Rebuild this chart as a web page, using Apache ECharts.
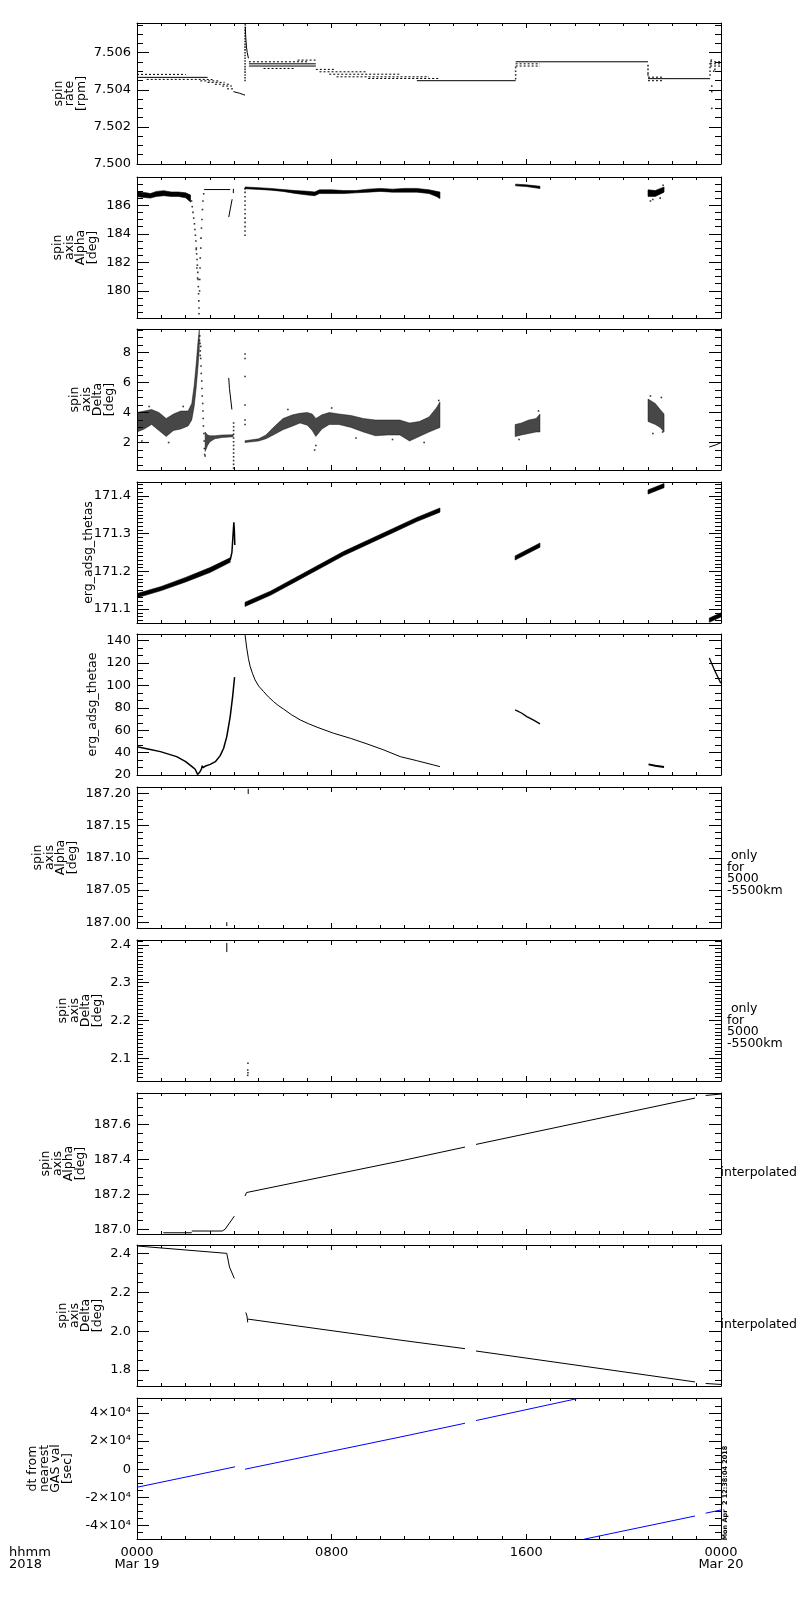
<!DOCTYPE html>
<html><head><meta charset="utf-8">
<script src="https://cdn.jsdelivr.net/npm/echarts@6/dist/echarts.min.js"></script>
<style>html,body{margin:0;padding:0;background:#fff}#c{width:800px;height:1600px}</style>
</head><body><div id="c"></div>
<script>
// ---------------- tick labels / texts ----------------
const xTickHours = [0, 8, 16, 24];
const xTickText = ['0000\nMar 19', '0800', '1600', '0000\nMar 20'];
const xCornerText = 'hhmm\n2018';
const stampText = 'Mon Apr  2 12:38:04 2018';
const yTitles = ['spin\nrate\n[rpm]', 'spin\naxis\nAlpha\n[deg]', 'spin\naxis\nDelta\n[deg]', 'erg_adsg_thetas', 'erg_adsg_thetae',
  'spin\naxis\nAlpha\n[deg]', 'spin\naxis\nDelta\n[deg]', 'spin\naxis\nAlpha\n[deg]', 'spin\naxis\nDelta\n[deg]', 'dt from\nnearest\nGAS val\n[sec]'];
const sideNotes = ['', '', '', '', '', ' only\nfor\n5000\n-5500km', ' only\nfor\n5000\n-5500km', 'interpolated', 'interpolated', ''];
const yMin = [7.500, 178.1, 0.17, 171.063, 20, 186.991, 2.040, 186.973, 1.718, -49500];
const yMax = [7.5076, 187.98, 9.56, 171.437, 146, 187.2098, 2.413, 187.779, 2.443, 50500];
const yMajor = [0.002, 2, 2, 0.1, 20, 0.05, 0.1, 0.2, 0.2, 20000];
const yMinorSplit = [4, 4, 4, 10, 3, 5, 10, 4, 4, 4];
const yDecimals = [3, 0, 0, 1, 0, 2, 1, 1, 1, 0];

// ---------------- panel 1: spin rate ----------------
const rateSolid = [[0,2.9,7.50467],[4.6,7.35,7.50540],[4.6,7.35,7.50528],[11.5,15.56,7.50449],[15.56,21.0,7.50551],[21.0,23.55,7.50460]];
const rateDotted = [[0,2.0,7.50483],[0.4,3.1,7.50456],[2.6,3.4,7.50448],[2.9,3.6,7.50440],[3.2,3.8,7.50430],[3.5,3.9,7.50420],[3.7,3.96,7.50405],
  [4.6,7.0,7.50551],[5.2,6.5,7.50515],[6.6,7.35,7.50560],[7.35,8.1,7.50510],[7.5,9.45,7.50497],[7.9,10.82,7.50484],[8.2,12.0,7.50470],[9.5,12.45,7.50461],
  [15.56,16.56,7.50540],[15.56,16.56,7.50528],[21.0,21.66,7.50468],[21.0,21.66,7.50449],[23.55,24,7.50551],[23.55,24,7.50540],[23.55,24,7.50528]];
const rateTail = [[3.96,7.50390],[4.2,7.50382],[4.44,7.50371]];
const rateDecay = [[4.45,7.5074],[4.47,7.5068],[4.5,7.5063],[4.53,7.5060],[4.58,7.5057]];
const rateDots = [[4.44,7.50450],[4.44,7.50465],[4.44,7.50480],[4.44,7.50495],[4.44,7.50510],[4.44,7.50525],[4.44,7.50540],[4.44,7.50555],[4.44,7.50570],
  [4.44,7.50585],[4.44,7.50600],[4.44,7.50615],[4.44,7.50630],[4.44,7.50645],[4.44,7.50660],[4.44,7.50675],[4.44,7.50690],[4.44,7.50705],[4.44,7.50720],[4.45,7.50735],[4.45,7.50750],
  [15.56,7.5046],[15.56,7.5048],[15.56,7.5050],[15.56,7.5052],[21.0,7.5053],[21.0,7.5051],[21.0,7.5049],[21.0,7.5048],
  [23.55,7.5048],[23.55,7.5050],[23.55,7.5052],[23.55,7.5054],[23.6,7.5056],[23.62,7.5042],[23.62,7.5039],[23.62,7.5030],[23.7,7.5050],[23.75,7.5051]];

// ---------------- panel 2: spin axis alpha ----------------
const alphaBand1 = [[0,186.6,186.95],[0.3,186.55,186.9],[0.55,186.5,186.82],[0.8,186.62,186.97],[1.1,186.67,187.02],[1.4,186.62,186.93],[1.7,186.62,186.93],[2.0,186.52,186.87],[2.2,186.22,186.72]];
const alphaBand2 = [[4.44,187.16,187.28],[5.0,187.11,187.23],[5.5,187.06,187.18],[6.0,186.97,187.1],[6.5,186.83,187.03],[7.0,186.72,186.98],[7.3,186.67,186.93],[7.5,186.82,187.08],
  [8.0,186.82,187.08],[8.5,186.82,187.03],[9.0,186.87,187.03],[9.5,186.92,187.13],[10.0,186.97,187.18],[10.5,186.92,187.13],[11.0,186.92,187.18],[11.5,186.92,187.18],[12.0,186.82,187.08],[12.3,186.62,186.98],[12.45,186.47,186.93]];
const alphaBand3 = [[15.56,187.36,187.48],[16.0,187.31,187.43],[16.56,187.17,187.33]];
const alphaBand4 = [[21.0,186.62,187.08],[21.3,186.62,187.03],[21.66,186.92,187.28]];
const alphaFlat = [[2.76,187.1],[3.83,187.1]];
const alphaTick = [[3.96,186.85],[3.96,187.15]];
const alphaRise = [[3.77,185.17],[3.84,185.8],[3.91,186.42]];
const alphaDots = [[2.24,186.3],[2.27,185.9],[2.3,185.5],[2.33,185.1],[2.36,184.7],[2.38,184.3],[2.4,183.9],[2.42,183.5],[2.44,183.0],[2.45,182.6],[2.47,182.2],
  [2.48,181.8],[2.5,181.3],[2.51,180.8],[2.52,180.3],[2.53,179.8],[2.54,179.3],[2.55,178.8],[2.55,178.4],[2.43,182.9],[2.46,181.6],[2.49,180.9],
  [2.57,180.0],[2.58,180.8],[2.59,181.6],[2.6,182.3],[2.62,183.0],[2.63,183.7],[2.65,184.4],[2.67,185.0],[2.69,185.7],[2.71,186.3],[2.74,186.8],
  [4.44,187.15],[4.44,186.9],[4.44,186.6],[4.44,186.3],[4.44,186.0],[4.44,185.7],[4.44,185.4],[4.44,185.1],[4.44,184.8],[4.44,184.5],[4.44,184.2],[4.44,183.9],
  [21.1,186.3],[21.2,186.4],[21.5,186.5],[21.62,187.4]];

// ---------------- panel 3: spin axis delta ----------------
const deltaBand1 = [[0,2.7,4.0],[0.3,2.9,4.1],[0.6,3.2,4.2],[0.9,2.8,4.0],[1.2,2.4,3.6],[1.5,2.8,3.9],[1.8,2.9,4.1],[2.1,3.1,4.1],[2.25,3.5,4.6],[2.35,4.4,5.8],[2.43,5.6,7.2],[2.5,6.9,8.6],[2.56,8.2,9.5]];
const deltaBand2 = [[2.8,1.4,2.7],[2.9,1.8,2.5],[3.0,2.05,2.45],[3.2,2.25,2.45],[3.5,2.33,2.5],[3.95,2.38,2.52]];
const deltaBand3 = [[4.44,2.0,2.12],[5.0,2.1,2.25],[5.3,2.25,2.5],[5.6,2.5,3.0],[6.0,2.85,3.6],[6.4,3.1,3.85],[6.7,3.3,3.95],[7.0,3.15,4.0],[7.2,2.8,3.9],[7.35,2.4,3.6],
  [7.6,2.9,3.85],[7.9,3.2,4.0],[8.3,3.2,3.9],[8.8,3.0,3.8],[9.3,2.7,3.6],[9.8,2.45,3.5],[10.3,2.5,3.5],[10.8,2.5,3.5],[11.2,2.1,3.3],[11.6,2.4,3.4],[12.0,2.7,3.7],[12.3,2.9,4.3],[12.45,3.0,4.7]];
const deltaBand4 = [[15.54,2.4,3.2],[15.8,2.5,3.3],[16.1,2.6,3.5],[16.4,2.7,3.6],[16.56,2.7,3.9]];
const deltaBand5 = [[21.0,3.4,4.9],[21.3,3.2,4.6],[21.5,3.0,4.2],[21.66,2.7,3.9]];
const deltaShort = [[3.77,6.3],[3.8,5.6],[3.85,4.9],[3.9,4.2]];
const deltaEnd = [[23.52,1.7],[23.8,1.85],[24,2.0]];
const deltaDots = [[2.58,9.1],[2.59,8.6],[2.6,8.1],[2.62,7.6],[2.63,7.1],[2.64,6.6],[2.66,6.1],[2.67,5.6],[2.68,5.1],[2.7,4.6],[2.71,4.1],[2.72,3.6],
  [2.73,3.1],[2.75,2.6],[2.76,2.1],[2.77,1.6],[2.78,1.2],[2.8,1.1],[2.6,7.8],[2.62,8.4],[2.57,8.8],
  [3.97,3.3],[3.97,3.05],[3.97,2.8],[3.97,2.55],[3.97,2.3],[3.97,2.05],[3.97,1.8],[3.97,1.55],[3.97,1.3],[3.97,1.05],[3.97,0.8],[3.97,0.55],[3.97,0.3],
  [4.44,7.9],[4.44,7.6],[4.44,6.4],[4.44,4.5],[4.44,3.5],[4.44,3.2],
  [0.2,2.1],[0.5,4.4],[1.3,2.0],[1.9,4.4],[6.2,4.2],[7.3,1.5],[7.35,1.8],[8.0,4.3],[9.0,2.3],[10.5,2.2],[11.8,2.0],[12.4,4.8],
  [15.7,2.2],[16.5,4.1],[21.1,5.1],[21.2,2.6],[21.6,2.7],[21.55,5.0]];

// ---------------- panel 4: erg_adsg_thetas ----------------
const thetasBand1 = [[0,171.130,171.141],[1,171.149,171.160],[2,171.172,171.184],[3,171.197,171.210],[3.83,171.224,171.236]];
const thetasBand2 = [[4.44,171.107,171.118],[5.5,171.137,171.148],[6.5,171.172,171.183],[7.5,171.207,171.218],[8.5,171.242,171.253],[9.5,171.272,171.283],[10.5,171.302,171.313],[11.5,171.332,171.343],[12.45,171.357,171.368]];
const thetasBand3 = [[15.54,171.230,171.241],[16.56,171.264,171.275]];
const thetasBand4 = [[21.0,171.405,171.416],[21.66,171.422,171.433]];
const thetasBand5 = [[23.52,171.065,171.076],[24,171.079,171.090]];
const thetasSpike = [[3.83,171.23],[3.9,171.25],[3.95,171.30],[3.98,171.33],[4.0,171.31],[4.02,171.27]];

// ---------------- panel 5: erg_adsg_thetae ----------------
const thetae1 = [[0,45.3],[0.5,43],[0.96,40.9],[1.63,36.4],[2.0,32],[2.26,27.5],[2.39,25.1],[2.49,20.5],[2.52,19],[2.55,20],[2.59,23],[2.65,25.5],[2.68,28.3],[2.72,26.5],
  [2.82,28.1],[3.01,29.5],[3.22,31.9],[3.42,37.3],[3.56,43.9],[3.69,54.3],[3.83,72.2],[3.93,90.1],[4.01,107.5]];
const thetae2 = [[4.44,145.3],[4.51,133.4],[4.58,124],[4.65,117],[4.75,110.5],[4.85,105],[5.0,99.5],[5.2,94.6],[5.4,89.8],[5.61,85.6],[5.8,82.2],[6.03,78.8],[6.35,73.8],[6.71,69.2],[7.05,65.8],[7.4,62.7],[8.08,57.3],[8.77,52.8],[9.45,47.8],[10.14,42.4],[10.82,36.4],[11.5,32.8],[12.18,29],[12.45,27.5]];
const thetae3 = [[15.54,78.2],[15.8,75.4],[16.02,72.2],[16.3,69],[16.56,65.7]];
const thetae4 = [[21.02,29.5],[21.3,28.3],[21.66,27.2]];
const thetae5 = [[23.52,124.5],[23.75,113],[23.99,102.1]];

// ---------------- panel 6/7: 5000-5500 km only ----------------
const alphaKmA = [[4.57,187.199],[4.57,187.207]];
const alphaKmB = [[3.69,186.994],[3.69,187.0]];
const deltaKmA = [[3.69,2.381],[3.69,2.405]];
const deltaKmDots = [[4.56,2.087],[4.55,2.069],[4.56,2.062],[4.55,2.055]];

// ---------------- panel 8: interpolated alpha ----------------
const alphaInt1 = [[1.08,186.98],[2.25,186.98]];
const alphaInt2 = [[2.25,186.99],[3.5,186.99],[3.62,187.0],[4.0,187.075]];
const alphaInt3 = [[4.44,187.19],[4.5,187.21],[4.55,187.2],[10.81,187.39],[13.48,187.47]];
const alphaInt4 = [[13.93,187.485],[22.93,187.75]];
const alphaInt5 = [[23.37,187.765],[24,187.773]];

// ---------------- panel 9: interpolated delta ----------------
const deltaInt1 = [[0,2.438],[3.69,2.40],[3.8,2.33],[4.0,2.271]];
const deltaInt2 = [[4.47,2.096],[4.52,2.078],[4.55,2.045]];
const deltaInt3 = [[4.56,2.062],[10.81,1.954],[13.48,1.910]];
const deltaInt4 = [[13.93,1.898],[22.93,1.739]];
const deltaInt5 = [[23.37,1.731],[24,1.726]];

// ---------------- panel 10: dt from nearest GAS value ----------------
const dt1 = [[0,-12800],[4.03,1700]];
const dt2 = [[4.44,0],[10.81,22800],[13.48,32600]];
const dt3 = [[13.93,34500],[18.07,50000]];
const dt4 = [[18.38,-49600],[22.93,-33200]];
const dt5 = [[23.37,-31200],[24,-28900]];

// ================= layout & build =================
const FONT = 'DejaVu Sans';
const panelTops = [23, 177, 329, 482, 634, 787, 940, 1093, 1245, 1398];
const nameGaps = [50, 39, 22, 43, 39, 59, 34, 51, 34, 64];
const PH = 141, GL = 137, GW = 584;

function yFmt(p) {
  return function (v) {
    const m = yMajor[p];
    const k = Math.round(v / m);
    if (Math.abs(v - k * m) > m * 1e-4) return '';
    const val = k * m;
    if (p === 9) {
      if (k === 0) return '0';
      return (val < 0 ? '-' : '') + Math.abs(val / 10000) + '\u00d710\u2074';
    }
    return val.toFixed(yDecimals[p]);
  };
}
function xFmt(v) {
  const r = Math.round(v);
  const i = xTickHours.indexOf(r);
  return (Math.abs(v - r) < 1e-6 && i >= 0) ? xTickText[i] : '';
}

const grid = [], xAxis = [], yAxis = [], series = [];
const black = {color: '#000', width: 1};
for (let p = 0; p < 10; p++) {
  grid.push({left: GL, top: panelTops[p], width: GW, height: PH, containLabel: false, outerBoundsMode: 'none', show: false});
  const xb = {
    type: 'value', gridIndex: p, min: 0, max: 24, interval: 8,
    axisLine: {show: true, onZero: false, lineStyle: black},
    axisTick: {show: true, inside: true, length: 5, lineStyle: black},
    minorTick: {show: true, splitNumber: 8, length: 3, lineStyle: black},
    splitLine: {show: false}, minorSplitLine: {show: false}
  };
  xAxis.push(Object.assign({}, xb, {position: 'bottom',
    axisLabel: p === 9 ? {show: true, formatter: xFmt, color: '#000', fontFamily: FONT, fontSize: 13, lineHeight: 12, margin: 8, showMinLabel: true, showMaxLabel: true} : {show: false}}));
  xAxis.push(Object.assign({}, xb, {position: 'top', axisLabel: {show: false}}));
  const yb = {
    type: 'value', gridIndex: p, min: yMin[p], max: yMax[p], minInterval: yMajor[p], maxInterval: yMajor[p], splitNumber: 5,
    axisLine: {show: true, onZero: false, lineStyle: black},
    axisTick: {show: true, inside: true, length: 12, lineStyle: black},
    minorTick: {show: true, splitNumber: yMinorSplit[p], length: 6, lineStyle: black},
    splitLine: {show: false}, minorSplitLine: {show: false}
  };
  yAxis.push(Object.assign({}, yb, {position: 'left',
    name: yTitles[p], nameLocation: 'middle', nameRotate: 90, nameGap: nameGaps[p], nameMoveOverlap: false,
    nameTextStyle: {color: '#000', fontFamily: FONT, fontSize: 12.5, lineHeight: 11.5},
    axisLabel: {show: true, margin: 6, formatter: yFmt(p), color: '#000', fontFamily: FONT, fontSize: 13, showMinLabel: true, showMaxLabel: true}}));
  yAxis.push(Object.assign({}, yb, {position: 'right', axisLabel: {show: false}}));
}

function addLine(p, pts, style) {
  series.push({type: 'line', xAxisIndex: 2 * p, yAxisIndex: 2 * p, data: pts, showSymbol: false, symbol: 'none',
    silent: true, clip: true, animation: false, lineStyle: Object.assign({color: '#000', width: 1}, style || {})});
}
function addLevels(p, levels, dashed) {
  levels.forEach(function (l) { addLine(p, [[l[0], l[2]], [l[1], l[2]]], dashed ? {type: [2, 2]} : null); });
}
function addDots(p, pts) {
  series.push({type: 'scatter', xAxisIndex: 2 * p, yAxisIndex: 2 * p, data: pts, symbol: 'rect', symbolSize: 1.6,
    silent: true, clip: true, animation: false, itemStyle: {color: '#000'}});
}
function addBand(p, band, opacity) {
  series.push({type: 'custom', xAxisIndex: 2 * p, yAxisIndex: 2 * p, data: [band[0]], encode: {x: 0, y: 1},
    silent: true, clip: true, animation: false,
    renderItem: function (params, api) {
      const top = band.map(function (b) { return api.coord([b[0], b[2]]); });
      const bot = band.slice().reverse().map(function (b) { return api.coord([b[0], b[1]]); });
      return {type: 'polygon', shape: {points: top.concat(bot)},
        style: {fill: '#000', stroke: '#000', lineWidth: 0.6, opacity: opacity || 1}};
    }});
}

// panel 1
addLevels(0, rateSolid, false);
addLevels(0, rateDotted, true);
addLine(0, rateTail); addLine(0, rateDecay); addDots(0, rateDots);
// panel 2
[alphaBand1, alphaBand2, alphaBand3, alphaBand4].forEach(function (b) { addBand(1, b); });
addLine(1, alphaFlat); addLine(1, alphaTick); addLine(1, alphaRise); addDots(1, alphaDots);
// panel 3
[deltaBand1, deltaBand2, deltaBand3, deltaBand4, deltaBand5].forEach(function (b) { addBand(2, b, 0.72); });
addLine(2, deltaShort); addLine(2, deltaEnd); addDots(2, deltaDots);
// panel 4
[thetasBand1, thetasBand2, thetasBand3, thetasBand4, thetasBand5].forEach(function (b) { addBand(3, b); });
addLine(3, thetasSpike, {width: 1.5});
// panel 5
addLine(4, thetae1, {width: 1.5}); addLine(4, thetae2); addLine(4, thetae3, {width: 1.3}); addLine(4, thetae4, {width: 2}); addLine(4, thetae5, {width: 1.3});
// panel 6, 7
addLine(5, alphaKmA); addLine(5, alphaKmB);
addLine(6, deltaKmA); addDots(6, deltaKmDots);
// panel 8
[alphaInt1, alphaInt2, alphaInt3, alphaInt4, alphaInt5].forEach(function (d) { addLine(7, d); });
// panel 9
[deltaInt1, deltaInt2, deltaInt3, deltaInt4, deltaInt5].forEach(function (d) { addLine(8, d); });
// panel 10
[dt1, dt2, dt3, dt4, dt5].forEach(function (d) { addLine(9, d, {color: '#0000ff'}); });

const graphic = [
  {type: 'text', z: 100, x: 9, y: 1547, style: {text: xCornerText, fill: '#000', fontFamily: FONT, fontSize: 13, lineHeight: 12,
    align: 'left', textAlign: 'left', verticalAlign: 'top', textVerticalAlign: 'top'}},
  {type: 'text', z: 100, x: 725, y: 1493, rotation: Math.PI / 2, style: {text: stampText, fill: '#000', fontFamily: FONT, fontSize: 6.5, fontWeight: 'bold',
    align: 'center', textAlign: 'center', verticalAlign: 'middle', textVerticalAlign: 'middle'}}
];
sideNotes.forEach(function (t, p) {
  if (!t) return;
  const multi = t.indexOf('\n') >= 0;
  graphic.push({type: 'text', z: 100, x: multi ? 727 : 720.5, y: multi ? panelTops[p] + 63.3 : panelTops[p] + 79.5,
    style: {text: t, fill: '#000', fontFamily: FONT, fontSize: 12.5, lineHeight: 11.5,
      align: 'left', textAlign: 'left', verticalAlign: multi ? 'top' : 'middle', textVerticalAlign: multi ? 'top' : 'middle'}});
});

const chart = echarts.init(document.getElementById('c'), null, {renderer: 'canvas', width: 800, height: 1600});
chart.setOption({
  backgroundColor: '#fff', animation: false,
  textStyle: {fontFamily: FONT, color: '#000'},
  grid: grid, xAxis: xAxis, yAxis: yAxis, series: series, graphic: graphic
});
</script></body></html>
